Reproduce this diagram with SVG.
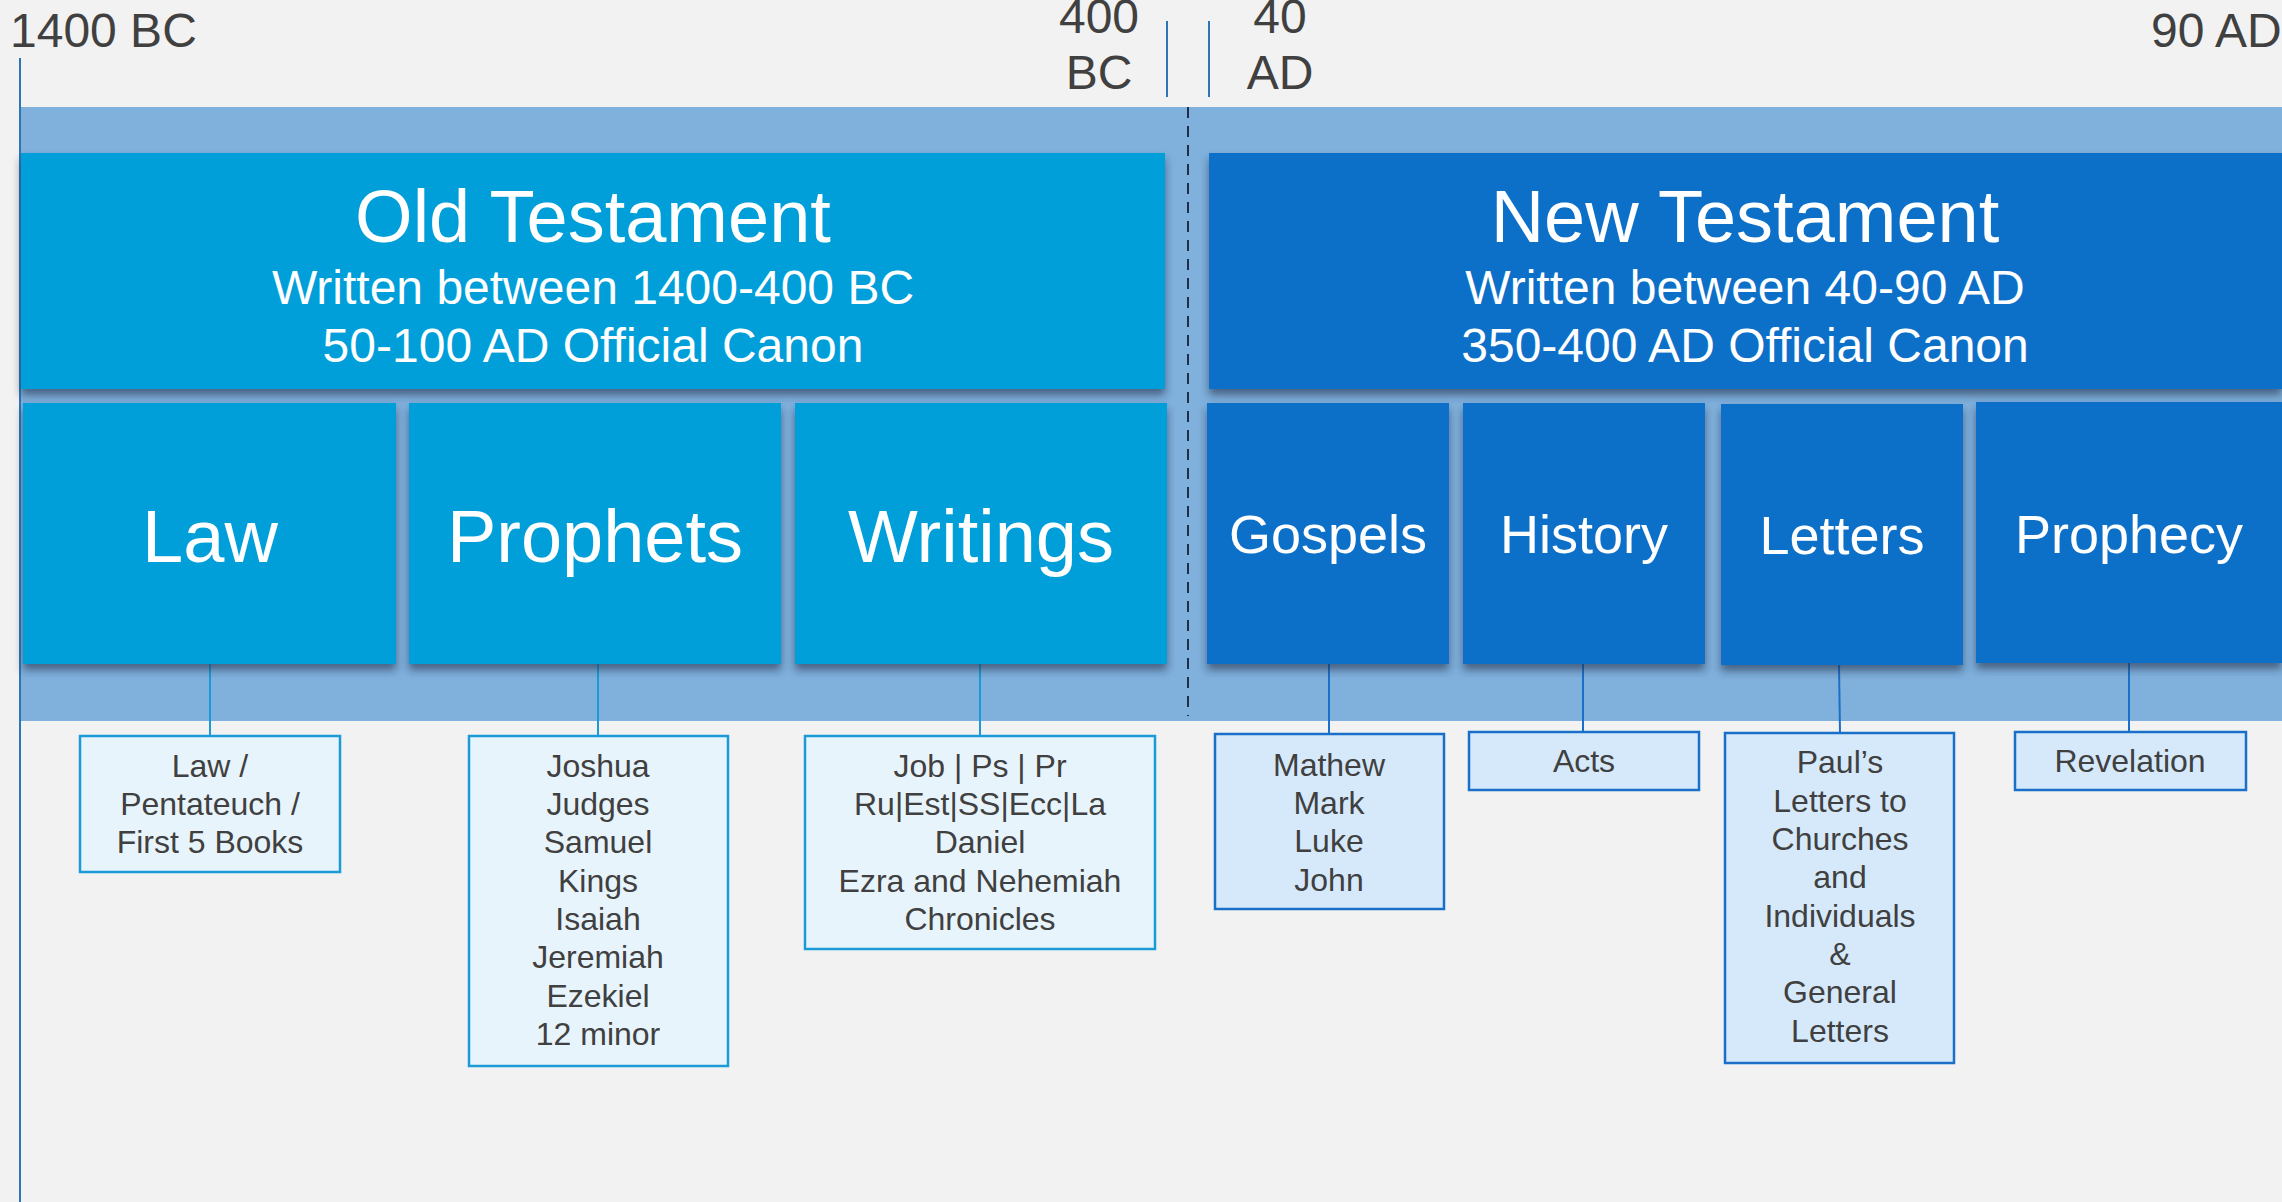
<svg xmlns="http://www.w3.org/2000/svg" width="2282" height="1202" viewBox="0 0 2282 1202">
<defs>
<style>
text{font-family:"Liberation Sans",Arial,sans-serif;text-anchor:middle}
.yr{fill:#404040;font-size:48px}
.tick{stroke:#2e75b6;stroke-width:2}
.ot{fill:#049fd9}
.nt{fill:#1070c8}
.big{fill:#fff;font-size:74px}
.sub{fill:#fff;font-size:48px}
.cat{fill:#fff;font-size:74px}
.ncat{fill:#fff;font-size:54px}
.dot{fill:#e8f4fc;stroke:#1a9ad6;stroke-width:2.5}
.dnt{fill:#d6e9fb;stroke:#1a6fc8;stroke-width:2.5}
.dt{fill:#404040;font-size:32px}
.cot{stroke:#1a9ad6;stroke-width:2;fill:none}
.cnt{stroke:#1a6fc8;stroke-width:2;fill:none}
</style>
<filter id="sh" x="-10%" y="-10%" width="120%" height="130%">
<feDropShadow dx="0" dy="6" stdDeviation="4" flood-color="#1e2c48" flood-opacity="0.6"/>
</filter>
</defs>
<rect x="0" y="0" width="2282" height="1202" fill="#f2f2f2"/>
<g id="timeline">
<rect x="20" y="107" width="2262" height="614" fill="#80b0dc"/>
<line x1="20" y1="58" x2="20" y2="1202" class="tick"/>
<line x1="1167" y1="21" x2="1167" y2="97" class="tick"/>
<line x1="1209" y1="21" x2="1209" y2="97" class="tick"/>
<line x1="1188" y1="107" x2="1188" y2="716" stroke="#1f2f4a" stroke-width="2" stroke-dasharray="11 8"/>
<text class="yr" x="10" y="47" style="text-anchor:start">1400 BC</text>
<text class="yr" x="1099" y="33">400</text>
<text class="yr" x="1099" y="89">BC</text>
<text class="yr" x="1280" y="33">40</text>
<text class="yr" x="1280" y="89">AD</text>
<text class="yr" x="2151" y="47" style="text-anchor:start">90 AD</text>
</g>
<g id="old-testament">
<rect x="21" y="153" width="1144" height="236" class="ot" filter="url(#sh)"/>
<text class="big" x="593" y="242">Old Testament</text>
<text class="sub" x="593" y="304">Written between 1400-400 BC</text>
<text class="sub" x="593" y="362">50-100 AD Official Canon</text>
</g>
<g id="new-testament">
<rect x="1209" y="153" width="1073" height="236" class="nt" filter="url(#sh)"/>
<text class="big" x="1745" y="242">New Testament</text>
<text class="sub" x="1745" y="304">Written between 40-90 AD</text>
<text class="sub" x="1745" y="362">350-400 AD Official Canon</text>
</g>
<g id="connectors">
<line x1="210" y1="664" x2="210" y2="736" class="cot"/>
<line x1="598" y1="664" x2="598" y2="736" class="cot"/>
<line x1="980" y1="664" x2="980" y2="736" class="cot"/>
<line x1="1329" y1="664" x2="1329" y2="734" class="cnt"/>
<line x1="1583" y1="664" x2="1583" y2="732" class="cnt"/>
<line x1="1839" y1="665" x2="1840" y2="733" class="cnt"/>
<line x1="2129" y1="663" x2="2129" y2="732" class="cnt"/>
</g>
<g id="law">
<rect x="23" y="403" width="373" height="261" class="ot" filter="url(#sh)"/>
<text class="cat" x="210" y="562">Law</text>
</g>
<g id="prophets">
<rect x="409" y="403" width="372" height="261" class="ot" filter="url(#sh)"/>
<text class="cat" x="595" y="562">Prophets</text>
</g>
<g id="writings">
<rect x="795" y="403" width="372" height="261" class="ot" filter="url(#sh)"/>
<text class="cat" x="981" y="562">Writings</text>
</g>
<g id="gospels">
<rect x="1207" y="403" width="242" height="261" class="nt" filter="url(#sh)"/>
<text class="ncat" x="1328" y="553">Gospels</text>
</g>
<g id="history">
<rect x="1463" y="403" width="242" height="261" class="nt" filter="url(#sh)"/>
<text class="ncat" x="1584" y="553">History</text>
</g>
<g id="letters">
<rect x="1721" y="404" width="242" height="261" class="nt" filter="url(#sh)"/>
<text class="ncat" x="1842" y="554">Letters</text>
</g>
<g id="prophecy">
<rect x="1976" y="402" width="306" height="261" class="nt" filter="url(#sh)"/>
<text class="ncat" x="2129" y="553">Prophecy</text>
</g>
<g id="law-books">
<rect x="80" y="736" width="260" height="136" class="dot"/>
<text class="dt" x="210"><tspan x="210" y="777">Law /</tspan><tspan x="210" y="815">Pentateuch /</tspan><tspan x="210" y="853">First 5 Books</tspan></text>
</g>
<g id="prophets-books">
<rect x="469" y="736" width="259" height="330" class="dot"/>
<text class="dt" x="598"><tspan x="598" y="777">Joshua</tspan><tspan x="598" y="815">Judges</tspan><tspan x="598" y="853">Samuel</tspan><tspan x="598" y="892">Kings</tspan><tspan x="598" y="930">Isaiah</tspan><tspan x="598" y="968">Jeremiah</tspan><tspan x="598" y="1007">Ezekiel</tspan><tspan x="598" y="1045">12 minor</tspan></text>
</g>
<g id="writings-books">
<rect x="805" y="736" width="350" height="213" class="dot"/>
<text class="dt" x="980"><tspan x="980" y="777">Job | Ps | Pr</tspan><tspan x="980" y="815">Ru|Est|SS|Ecc|La</tspan><tspan x="980" y="853">Daniel</tspan><tspan x="980" y="892">Ezra and Nehemiah</tspan><tspan x="980" y="930">Chronicles</tspan></text>
</g>
<g id="gospels-books">
<rect x="1215" y="734" width="229" height="175" class="dnt"/>
<text class="dt" x="1329"><tspan x="1329" y="776">Mathew</tspan><tspan x="1329" y="814">Mark</tspan><tspan x="1329" y="852">Luke</tspan><tspan x="1329" y="891">John</tspan></text>
</g>
<g id="history-books">
<rect x="1469" y="732" width="230" height="58" class="dnt"/>
<text class="dt" x="1584" y="772">Acts</text>
</g>
<g id="letters-books">
<rect x="1725" y="733" width="229" height="330" class="dnt"/>
<text class="dt" x="1840"><tspan x="1840" y="773">Paul’s</tspan><tspan x="1840" y="812">Letters to</tspan><tspan x="1840" y="850">Churches</tspan><tspan x="1840" y="888">and</tspan><tspan x="1840" y="927">Individuals</tspan><tspan x="1840" y="965">&amp;</tspan><tspan x="1840" y="1003">General</tspan><tspan x="1840" y="1042">Letters</tspan></text>
</g>
<g id="prophecy-books">
<rect x="2015" y="732" width="231" height="58" class="dnt"/>
<text class="dt" x="2130" y="772">Revelation</text>
</g>
</svg>
